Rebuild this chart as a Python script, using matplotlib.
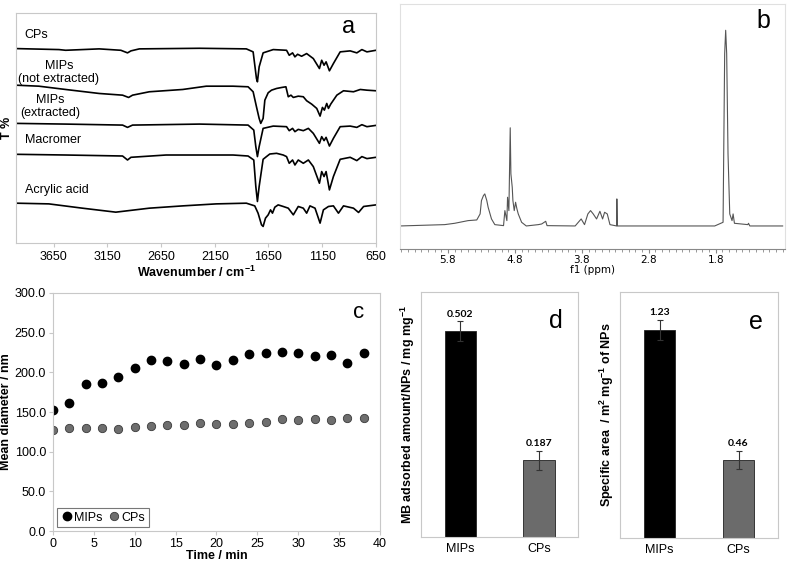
import numpy as np
import matplotlib
matplotlib.use('Agg')
from matplotlib import pyplot as plt
from matplotlib.ticker import MultipleLocator

plt.rcParams['font.family'] = ['Liberation Sans', 'DejaVu Sans']

# ---- panel a: FTIR spectra (wavenumber, offset transmittance in arbitrary units)
wn_cps = [4000, 3600, 3538, 3226, 3024, 2962, 2930, 2852, 2292, 1856, 1793, 1762, 1753, 1737, 1700,
          1606, 1482, 1457, 1426, 1404, 1379, 1342, 1295, 1233, 1176, 1155, 1133, 1114, 1083, 1046,
          983, 890, 828, 781, 734, 650]
t_cps = [195, 194, 193.3, 194.7, 193.3, 190.7, 192.7, 194.7, 195.3, 194.7, 191.7, 165, 161.7, 176.7, 190.7,
         194, 193.3, 188.3, 190.7, 186.7, 189.3, 187.3, 190, 185, 175, 183.3, 178.3, 181.7, 172.7, 180,
         191.7, 192.7, 190.7, 194, 191.7, 193.3]

wn_mne = [4000, 3787, 3538, 3226, 3008, 2952, 2915, 2759, 2448, 2229, 1980, 1840, 1793, 1762, 1737,
          1722, 1700, 1684, 1653, 1622, 1575, 1528, 1488, 1466, 1441, 1419, 1373, 1326, 1295, 1248,
          1201, 1170, 1148, 1130, 1108, 1092, 1071, 1014, 952, 859, 796, 734, 650]
t_mne = [158.3, 157.3, 154, 150, 148.3, 146, 148.3, 151.7, 154, 157.3, 157.3, 156.7, 151.7, 136.7, 125,
         120, 125, 143.3, 150.7, 153.3, 155, 156, 156.7, 146.7, 148.3, 146, 147.3, 146.7, 142.7, 139.3,
         135, 127.3, 136, 133.3, 140, 135, 139.3, 148.3, 152.7, 151.7, 154, 153.3, 152.7]

wn_mex = [4000, 3538, 3008, 2962, 2915, 2292, 1840, 1787, 1768, 1753, 1737, 1700, 1606, 1482, 1457,
          1426, 1404, 1373, 1326, 1279, 1233, 1176, 1155, 1133, 1114, 1083, 1046, 983, 890, 828,
          781, 734, 650]
t_mex = [120, 119.3, 118.3, 116, 118.3, 119.3, 118.3, 113.3, 96.7, 86.7, 96.7, 115, 117.3, 116.7, 112.7,
         115, 111.7, 114, 112.7, 115, 110, 100, 106.7, 102.7, 106, 97.3, 105, 116.7, 117.3, 116,
         118.7, 116.7, 118]

wn_mac = [4000, 3538, 3008, 2962, 2930, 2603, 1980, 1840, 1787, 1768, 1753, 1737, 1700, 1669, 1638,
          1575, 1513, 1482, 1457, 1426, 1404, 1373, 1326, 1279, 1233, 1176, 1155, 1133, 1114, 1083,
          1046, 983, 890, 828, 781, 734, 650]
t_mac = [89, 88.3, 87.3, 83.3, 86, 88.3, 88.3, 87.3, 83.3, 56.7, 41.7, 56.7, 84, 86.7, 89.3,
         90, 88.3, 86.7, 80, 83.3, 78.3, 83.3, 80, 83.3, 76.7, 60, 71.7, 66.7, 71.7, 53.3,
         66.7, 84, 86, 82.7, 86.7, 84.7, 86]

wn_aa = [4000, 3694, 3382, 3071, 2759, 2448, 2136, 1856, 1778, 1747, 1715, 1700, 1678, 1653, 1631,
         1613, 1591, 1560, 1513, 1466, 1419, 1373, 1326, 1295, 1264, 1217, 1170, 1139, 1092, 1046,
         999, 952, 859, 812, 765, 650]
t_aa = [40, 39.3, 35, 31, 35, 37.3, 39.3, 40, 37.3, 30, 18.3, 16.7, 25, 28.3, 33.3,
        30, 36, 38.3, 36.7, 35, 28.3, 36.7, 35, 30, 37.3, 35, 20, 33.3, 36.7, 37.3,
        30, 37.3, 35, 30.7, 36.7, 38.3]

ir_ticks = [3650, 3150, 2650, 2150, 1650, 1150, 650]

# ---- panel b: 1H NMR (ppm, intensity arbitrary)
ppm = [6.52, 5.85, 5.70, 5.50, 5.37, 5.32, 5.30, 5.27, 5.25, 5.22, 5.20, 5.15, 5.10, 4.97, 4.95,
       4.92, 4.91, 4.89, 4.87, 4.86, 4.84, 4.83, 4.81, 4.79, 4.77, 4.75, 4.70, 4.63, 4.45, 4.40,
       4.34, 4.32, 3.90, 3.81, 3.76, 3.71, 3.67, 3.63, 3.58, 3.53, 3.49, 3.46, 3.42, 3.38, 3.28,
       3.277, 3.27, 1.815, 1.69, 1.666, 1.651, 1.636, 1.616, 1.59, 1.556, 1.54, 1.52, 1.32, 1.31,
       1.29, 0.80]
nmr = [0, 4, 8, 16, 18, 36, 76, 91, 96, 76, 56, 21, 4, 1, 46,
       16, 86, 46, 294, 156, 116, 76, 46, 71, 51, 36, 11, 0, 4, 6,
       14, 1, 0, 21, 4, 36, 46, 36, 21, 44, 21, 41, 36, 4, 0,
       81, 0, 0, 11, 516, 586, 516, 216, 36, 16, 36, 8, 4, 8,
       0, 0]
nmr_ticks = [5.8, 4.8, 3.8, 2.8, 1.8]

# ---- panel c: DLS mean diameter vs time
time_min = [0, 2, 4, 6, 8, 10, 12, 14, 16, 18, 20, 22, 24, 26, 28, 30, 32, 34, 36, 38]
d_mips = [152, 161, 185, 186, 194, 205, 216, 214, 210, 217, 209, 216, 223, 224, 226, 224, 221, 222, 212, 224]
d_cps = [127, 130, 130, 130, 129, 131, 132, 133, 134, 136, 135, 135, 136, 138, 141, 140, 141, 140, 142, 142]

# ---- panels d, e: bars
groups = ['MIPs', 'CPs']
mb_ads = [0.502, 0.187]
mb_err = [0.024, 0.023]
spec_area = [1.23, 0.46]
spec_err = [0.06, 0.055]

grey_spine = '#c8c8c8'

fig = plt.figure(figsize=(7.87, 5.64), dpi=100)

# ---------------- a
ax = fig.add_axes([0.0203, 0.569, 0.4574, 0.408])
for wn, t in [(wn_cps, t_cps), (wn_mne, t_mne), (wn_mex, t_mex), (wn_mac, t_mac), (wn_aa, t_aa)]:
    ax.plot(wn, t, color='black', lw=1.2)
ax.set_xlim(4000, 650)
ax.set_ylim(0, 230.7)
ax.set_xticks(ir_ticks)
ax.set_yticks([])
ax.tick_params(axis='x', labelsize=9, length=3, color=grey_spine, pad=3)
for s in ax.spines.values():
    s.set_color(grey_spine)
ax.set_xlabel('Wavenumber / cm$^{\\mathregular{-1}}$', fontsize=9, fontweight='bold', labelpad=1)
ax.set_ylabel('T %', fontsize=9, fontweight='bold', labelpad=2)
ax.text(3920, 209, 'CPs', fontsize=9, va='center')
ax.text(3600, 171, 'MIPs\n(not extracted)', fontsize=9, va='center', ha='center', linespacing=1.1)
ax.text(3680, 137, 'MIPs\n(extracted)', fontsize=9, va='center', ha='center', linespacing=1.1)
ax.text(3920, 103, 'Macromer', fontsize=9, va='center')
ax.text(3920, 53, 'Acrylic acid', fontsize=9, va='center')
ax.text(0.925, 0.94, 'a', transform=ax.transAxes, fontsize=17, ha='center', va='center')

# ---------------- b
ax = fig.add_axes([0.508, 0.5585, 0.489, 0.434])
ax.plot(ppm, nmr, color='#555555', lw=0.8)
ax.set_xlim(6.52, 0.77)
ax.set_ylim(-69, 664)
ax.set_xticks(nmr_ticks)
ax.set_xticklabels([str(v) for v in nmr_ticks], family='DejaVu Sans')
ax.xaxis.set_minor_locator(MultipleLocator(0.1))
ax.set_yticks([])
ax.tick_params(axis='x', which='major', labelsize=7.5, length=3, color='#888888', pad=1)
ax.tick_params(axis='x', which='minor', length=2, color='#888888')
for s in ['left', 'top', 'right']:
    ax.spines[s].set_color('#e0e0e0')
ax.spines['bottom'].set_color('#888888')
ax.set_xlabel('f1 (ppm)', fontsize=7.5, family='DejaVu Sans', labelpad=0)
ax.text(0.945, 0.93, 'b', transform=ax.transAxes, fontsize=18, ha='center', va='center')

# ---------------- c
ax = fig.add_axes([0.0673, 0.0585, 0.4155, 0.422])
ax.plot(time_min, d_mips, 'o', color='black', ms=6, label='MIPs')
ax.plot(time_min, d_cps, 'o', color='#6e6e6e', mec='#3a3a3a', mew=0.6, ms=6, label='CPs')
ax.set_xlim(0, 40)
ax.set_ylim(0, 300)
ax.set_xticks(range(0, 41, 5))
ax.set_yticks(range(0, 301, 50))
ax.set_yticklabels([f'{v:.1f}' for v in range(0, 301, 50)])
ax.tick_params(labelsize=9, length=3, color=grey_spine, pad=2)
for s in ax.spines.values():
    s.set_color(grey_spine)
ax.set_xlabel('Time / min', fontsize=9, fontweight='bold', labelpad=0)
ax.set_ylabel('Mean diameter / nm', fontsize=9, fontweight='bold')
ax.yaxis.set_label_coords(-0.125, 0.5)
leg = ax.legend(loc='lower left', ncol=2, fontsize=9, frameon=True, fancybox=False,
                handletextpad=0.1, columnspacing=0.4, handlelength=1.0, borderpad=0.3,
                borderaxespad=0.3)
leg.get_frame().set_edgecolor('#555555')
leg.get_frame().set_linewidth(0.8)
ax.text(0.935, 0.92, 'c', transform=ax.transAxes, fontsize=16, ha='center', va='center')


def bar_panel(rect, vals, errs, ymax, ylabel, letter, fmt):
    ax = fig.add_axes(rect)
    x = np.arange(len(groups))
    ax.bar(x, vals, width=0.4, color=['black', '#6b6b6b'], edgecolor='#222222', lw=0.6)
    ax.errorbar(x, vals, yerr=errs, fmt='none', ecolor='#333333', elinewidth=0.8, capsize=2, capthick=0.8)
    for xi, v, e, f in zip(x, vals, errs, fmt):
        ax.text(xi, v + e + ymax * 0.012, f, ha='center', va='bottom', fontsize=7.5,
                fontweight='bold', family='Lato')
    ax.set_xlim(-0.5, 1.5)
    ax.set_ylim(0, ymax)
    ax.set_xticks(x)
    ax.set_xticklabels(groups)
    ax.set_yticks([])
    ax.tick_params(labelsize=9, length=0, pad=4)
    for s in ax.spines.values():
        s.set_color(grey_spine)
    ax.set_ylabel(ylabel, fontsize=9, fontweight='bold', labelpad=3)
    ax.text(0.86, 0.88, letter, transform=ax.transAxes, fontsize=18, ha='center', va='center')
    return ax


bar_panel([0.535, 0.0479, 0.1995, 0.4344], mb_ads, mb_err, 0.598,
          'MB adsorbed amount/NPs / mg mg$^{\\mathregular{-1}}$', 'd', ['0.502', '0.187'])
bar_panel([0.7878, 0.0461, 0.2008, 0.436], spec_area, spec_err, 1.453,
          'Specific area  / m$^{\\mathregular{2}}$ mg$^{\\mathregular{-1}}$ of NPs', 'e', ['1.23', '0.46'])

fig.savefig('out.png', dpi=100)
